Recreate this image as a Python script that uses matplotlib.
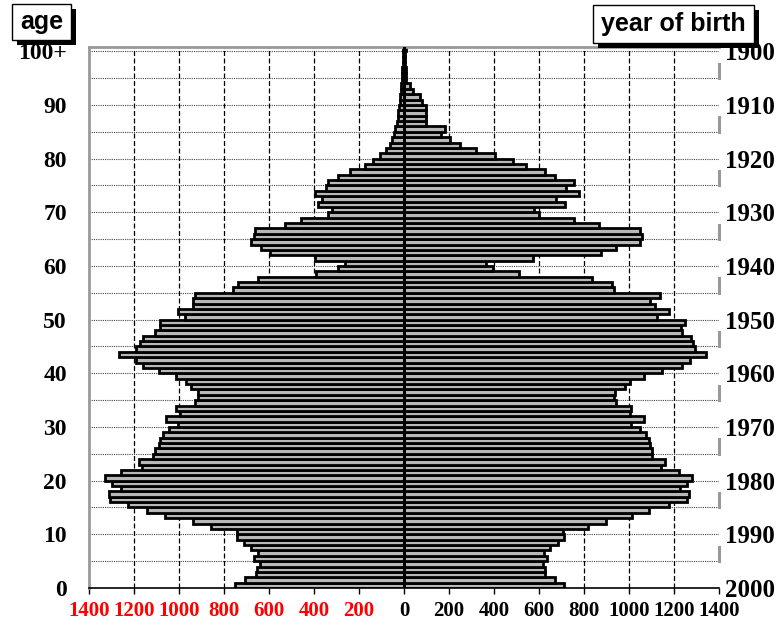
import numpy as np
import matplotlib
matplotlib.use("Agg")
import matplotlib.pyplot as plt
from matplotlib.patches import Rectangle

# population by single year of age (0 .. 100+), thousands
ages = np.arange(0, 101)
left_values = [
    752, 705, 656, 652, 641, 668, 649, 678, 711, 742,
    742, 856, 940, 1061, 1141, 1227, 1305, 1311, 1260, 1296,
    1330, 1260, 1163, 1178, 1116, 1108, 1089, 1086, 1071, 1044,
    1004, 1056, 997, 1012, 930, 916, 916, 945, 967, 1012,
    1089, 1160, 1189, 1267, 1189, 1172, 1160, 1108, 1086, 1086,
    975, 1004, 940, 938, 930, 760, 738, 649, 389, 293,
    264, 397, 597, 634, 678, 668, 664, 530, 456, 338,
    318, 382, 363, 397, 348, 338, 293, 241, 175, 140,
    108, 81, 64, 52, 46, 38, 32, 28, 25, 22,
    20, 17, 14, 12, 10, 8, 7, 5, 4, 3,
    3,
]
right_values = [
    710, 670, 625, 625, 618, 637, 622, 647, 684, 710,
    707, 818, 896, 1015, 1089, 1178, 1258, 1267, 1228, 1258,
    1281, 1222, 1144, 1161, 1102, 1104, 1092, 1089, 1077, 1050,
    1010, 1065, 1003, 1010, 944, 933, 936, 984, 1003, 1065,
    1148, 1237, 1270, 1344, 1292, 1284, 1277, 1237, 1230, 1250,
    1126, 1178, 1114, 1095, 1136, 933, 926, 837, 510, 396,
    363, 573, 877, 941, 1047, 1059, 1047, 867, 754, 600,
    576, 714, 677, 776, 721, 754, 670, 625, 544, 484,
    403, 318, 247, 203, 166, 181, 99, 99, 99, 99,
    81, 70, 40, 25, 10, 8, 8, 6, 5, 5,
    9,
]

age_ticks = list(range(0, 101, 10))
age_labels = [str(a) for a in range(0, 100, 10)] + ["100+"]
year_labels = [str(2000 - a) for a in age_ticks]
x_ticks = list(range(-1400, 1401, 200))
x_labels = [str(abs(v)) for v in x_ticks]

serif = "Liberation Serif"
sans = "Liberation Sans"

fig = plt.figure(figsize=(7.8, 6.28), dpi=100)
ax = fig.add_axes([89 / 780, 40 / 628, 630 / 780, 541 / 628])

ax.set_xlim(-1400, 1400)
ax.set_ylim(0, 100.8)

# grid
for y in range(5, 101, 5):
    ax.axhline(y, color="#444444", lw=0.8, ls=(0, (1, 1)), zorder=1)
for x in range(-1200, 1201, 200):
    if x != 0:
        ax.axvline(x, color="black", lw=0.9, ls=(0, (4, 2)), zorder=1)

bar_color = "#b8b8b8"
ax.barh(ages, -np.array(left_values), height=1, align="edge",
        color=bar_color, edgecolor="black", linewidth=2.0, zorder=2)
ax.barh(ages, right_values, height=1, align="edge",
        color=bar_color, edgecolor="black", linewidth=2.0, zorder=2)
ax.axvline(0, color="black", lw=2.2, zorder=3)

# gray marks on the right edge
for a in range(5, 100, 10):
    ax.plot([1400, 1400], [a, a + 2.7], color="#999999", lw=2.2,
            clip_on=False, zorder=3)

ax.spines["right"].set_visible(False)
ax.spines["left"].set_color("#999999")
ax.spines["left"].set_linewidth(2)
ax.spines["top"].set_color("#999999")
ax.spines["top"].set_linewidth(2)
ax.spines["bottom"].set_color("black")
ax.spines["bottom"].set_linewidth(1.2)

ax.set_xticks(x_ticks)
ax.set_xticklabels(x_labels, fontfamily=serif, fontweight="bold", fontsize=15)
for lab, v in zip(ax.get_xticklabels(), x_ticks):
    lab.set_color("red" if v < 0 else "black")
ax.tick_params(axis="x", length=4.5, width=1, pad=5, color="black")

ax.set_yticks(age_ticks)
ax.set_yticklabels(age_labels, fontfamily=serif, fontweight="bold", fontsize=17)
ax.tick_params(axis="y", length=0, pad=16)

ax2 = ax.twinx()
ax2.set_ylim(0, 100.8)
ax2.set_yticks(age_ticks)
ax2.set_yticklabels(year_labels, fontfamily=serif, fontweight="bold", fontsize=18)
ax2.tick_params(axis="y", length=0, pad=4)
for s in ax2.spines.values():
    s.set_visible(False)


def label_box(x0, y0, w, h, text):
    W, H = 780, 628
    shadow = Rectangle(((x0 + 5) / W, 1 - (y0 + h + 5) / H), w / W, h / H,
                       transform=fig.transFigure, facecolor="black",
                       edgecolor="none", zorder=10)
    box = Rectangle((x0 / W, 1 - (y0 + h) / H), w / W, h / H,
                    transform=fig.transFigure, facecolor="white",
                    edgecolor="black", linewidth=1, zorder=11)
    fig.add_artist(shadow)
    fig.add_artist(box)
    fig.text((x0 + w / 2) / W, 1 - (y0 + h / 2) / H, text, ha="center",
             va="center", fontfamily=sans, fontweight="bold", fontsize=18,
             zorder=12)


label_box(12, 4, 59, 36, "age")
label_box(593, 5, 161, 38, "year of birth")

fig.savefig("out.png", dpi=100)
